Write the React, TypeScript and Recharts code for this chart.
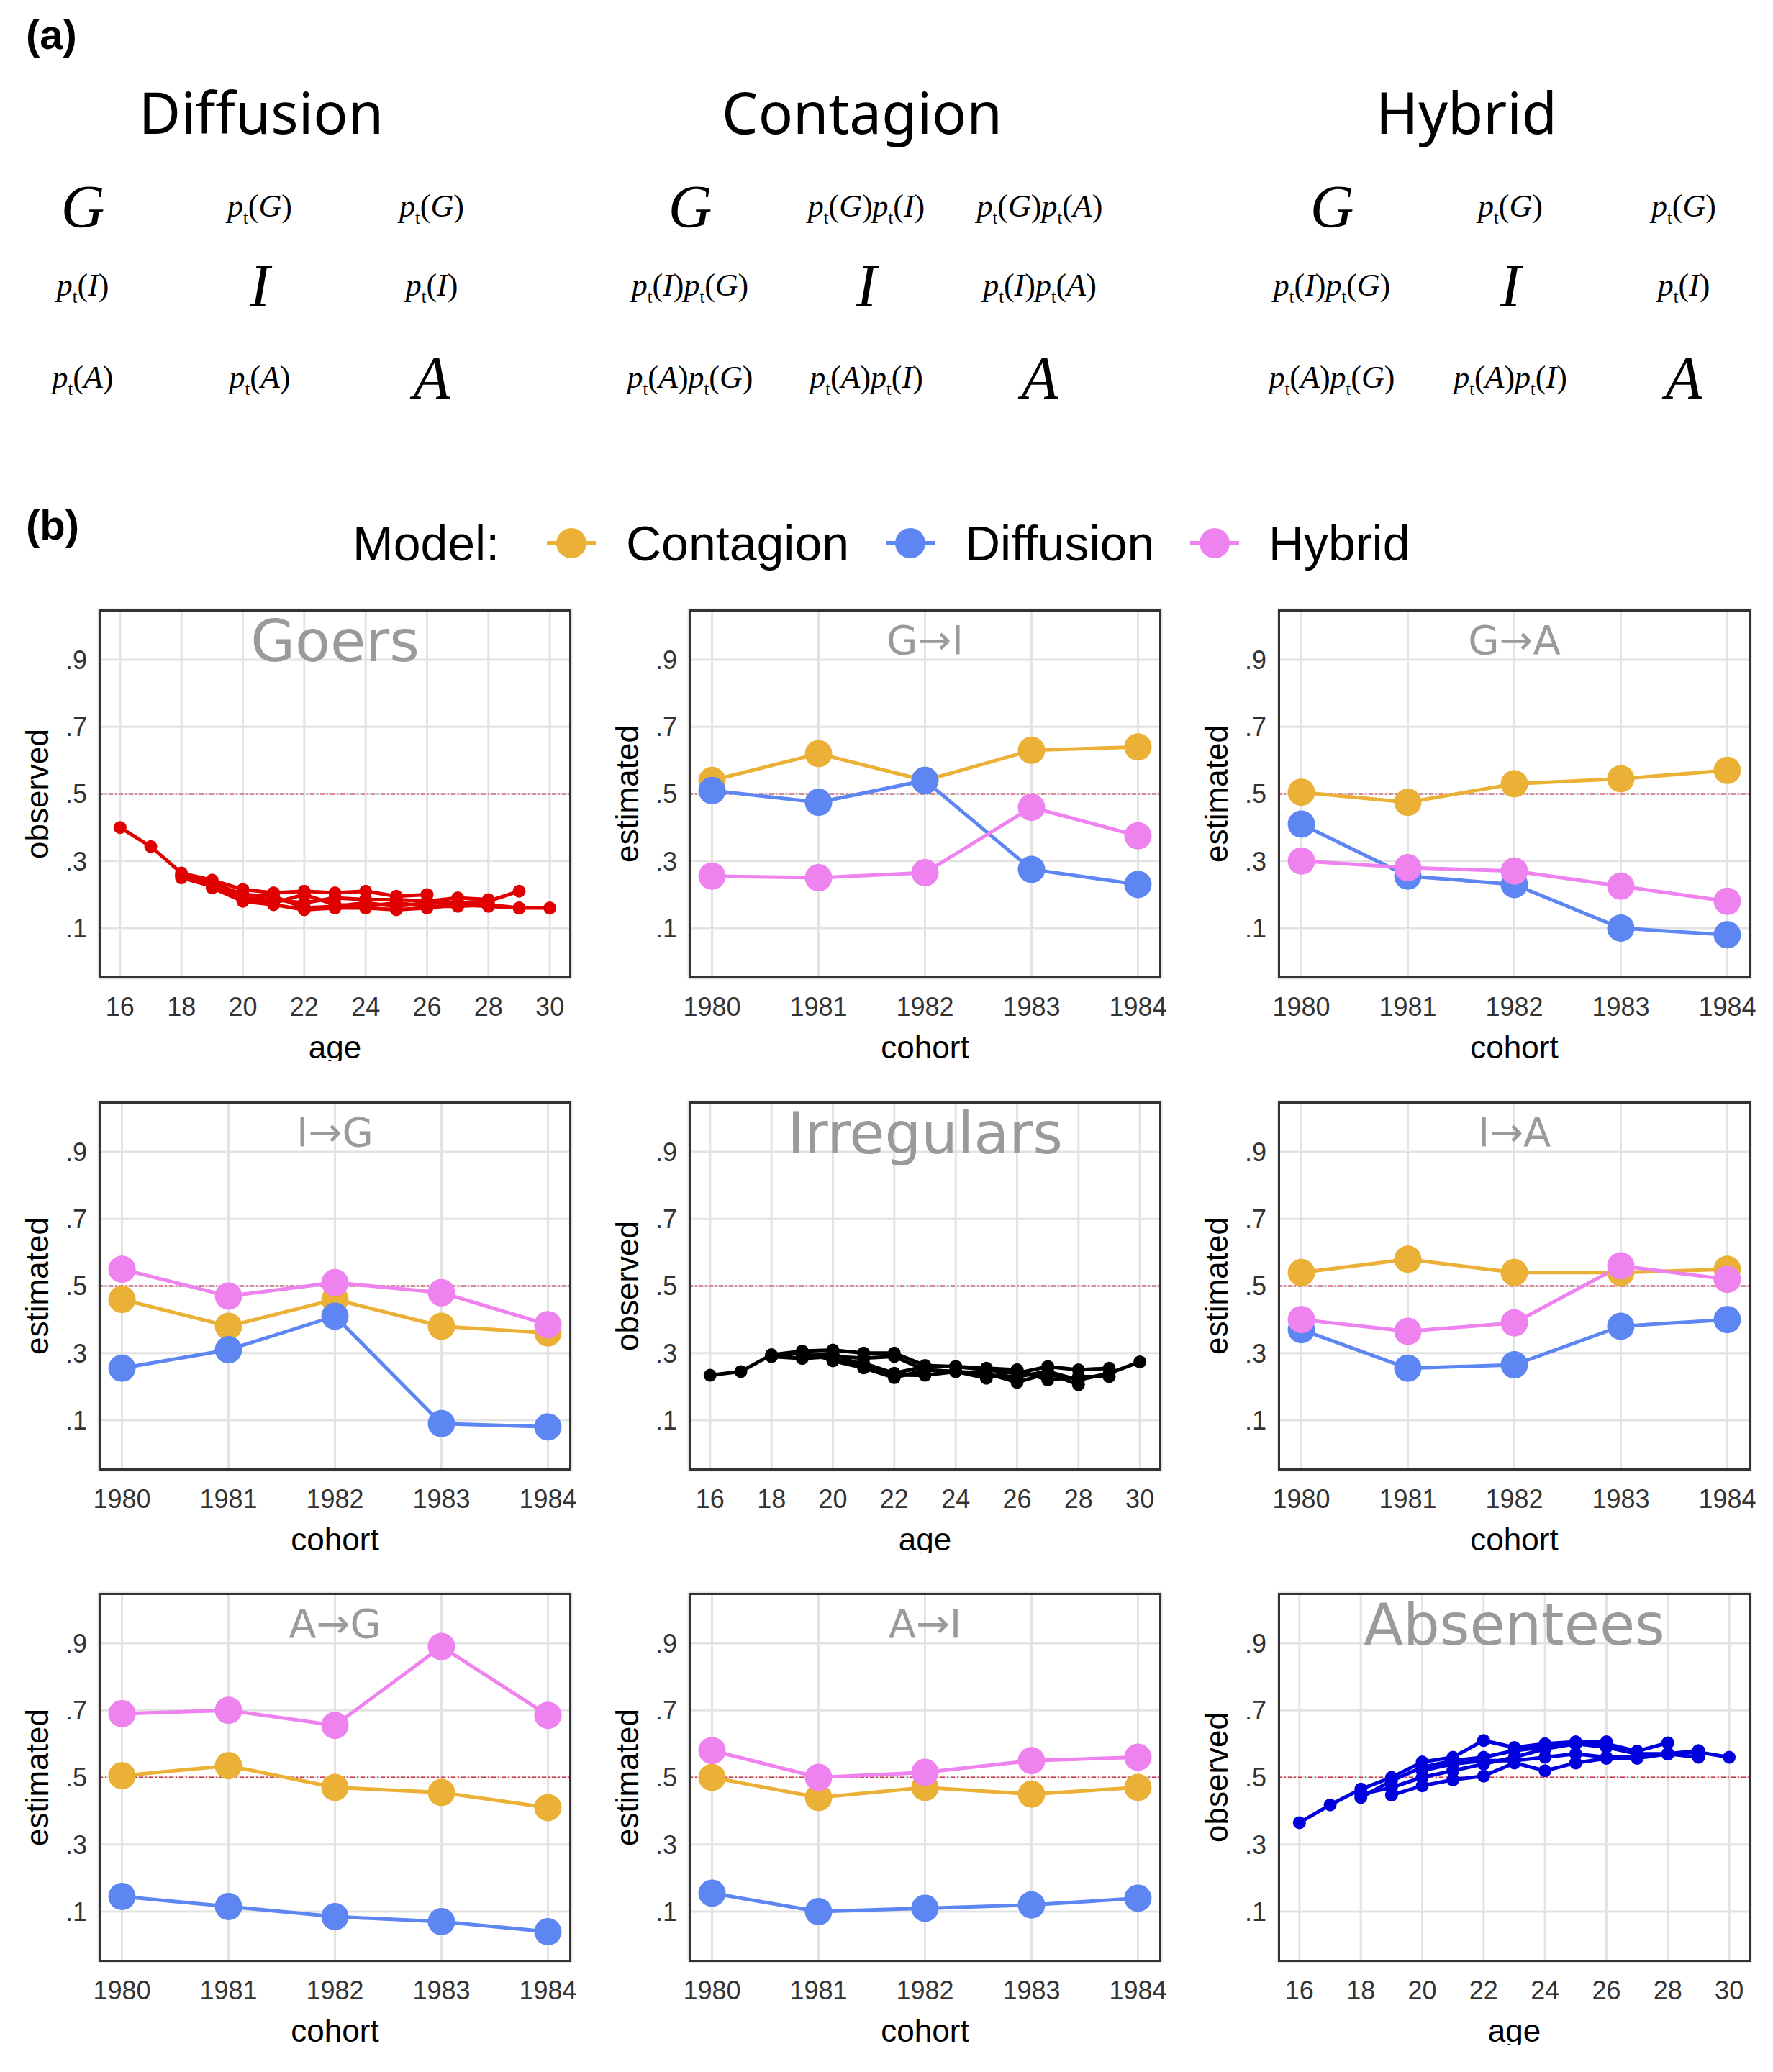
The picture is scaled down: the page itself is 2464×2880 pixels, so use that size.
import React from "react";
import { LineChart, Line, XAxis, YAxis, CartesianGrid, ReferenceLine } from "recharts";

const cohorts = [1980, 1981, 1982, 1983, 1984];
const yTicks = [0.1, 0.3, 0.5, 0.7, 0.9];
const ageTicks = [16, 18, 20, 22, 24, 26, 28, 30];

// estimated panels: contagion / diffusion / hybrid per cohort
const giContagion = [0.54, 0.62, 0.54, 0.63, 0.64];
const giDiffusion = [0.51, 0.475, 0.54, 0.275, 0.23];
const giHybrid = [0.255, 0.25, 0.265, 0.46, 0.375];
const gaContagion = [0.505, 0.475, 0.53, 0.545, 0.57];
const gaDiffusion = [0.41, 0.255, 0.23, 0.1, 0.08];
const gaHybrid = [0.3, 0.28, 0.27, 0.225, 0.18];
const igContagion = [0.46, 0.38, 0.46, 0.38, 0.36];
const igDiffusion = [0.255, 0.31, 0.41, 0.09, 0.08];
const igHybrid = [0.55, 0.47, 0.51, 0.48, 0.385];
const iaContagion = [0.54, 0.58, 0.54, 0.54, 0.55];
const iaDiffusion = [0.37, 0.255, 0.265, 0.38, 0.4];
const iaHybrid = [0.4, 0.365, 0.39, 0.56, 0.52];
const agContagion = [0.505, 0.535, 0.47, 0.455, 0.41];
const agDiffusion = [0.145, 0.115, 0.085, 0.07, 0.04];
const agHybrid = [0.69, 0.7, 0.655, 0.89, 0.685];
const aiContagion = [0.5, 0.44, 0.47, 0.45, 0.47];
const aiDiffusion = [0.155, 0.1, 0.11, 0.12, 0.14];
const aiHybrid = [0.58, 0.5, 0.515, 0.55, 0.56];

// observed panels: one line per cohort, first age of each line
const obsStartAges = [16, 18, 18, 19, 20];
const goers = [
  [0.4, 0.343, 0.264, 0.243, 0.215, 0.205, 0.21, 0.205, 0.21, 0.195, 0.2],
  [0.25, 0.225, 0.19, 0.185, 0.175, 0.19, 0.185, 0.185, 0.18, 0.19, 0.185],
  [0.258, 0.235, 0.2, 0.195, 0.16, 0.165, 0.175, 0.165, 0.175, 0.175, 0.18, 0.21],
  [0.22, 0.18, 0.17, 0.155, 0.16, 0.16, 0.155, 0.16, 0.17, 0.165, 0.16],
  [0.185, 0.175, 0.2, 0.17, 0.165, 0.175, 0.165, 0.165, 0.17, 0.16, 0.16],
];
const irregulars = [
  [0.234, 0.245, 0.295, 0.306, 0.309, 0.3, 0.3, 0.263, 0.26, 0.255, 0.25],
  [0.29, 0.284, 0.29, 0.285, 0.29, 0.25, 0.245, 0.24, 0.213, 0.24, 0.206],
  [0.29, 0.3, 0.28, 0.27, 0.24, 0.26, 0.26, 0.25, 0.24, 0.26, 0.25, 0.255],
  [0.29, 0.3, 0.26, 0.235, 0.234, 0.245, 0.225, 0.25, 0.22, 0.23, 0.23],
  [0.277, 0.256, 0.227, 0.25, 0.245, 0.234, 0.23, 0.245, 0.22, 0.24, 0.274],
];
const absentees = [
  [0.365, 0.418, 0.465, 0.5, 0.546, 0.56, 0.61, 0.589, 0.6, 0.606, 0.606],
  [0.44, 0.49, 0.53, 0.55, 0.56, 0.58, 0.59, 0.6, 0.6, 0.578, 0.603],
  [0.45, 0.47, 0.5, 0.52, 0.54, 0.56, 0.585, 0.6, 0.59, 0.57, 0.57, 0.58],
  [0.447, 0.475, 0.493, 0.504, 0.543, 0.52, 0.543, 0.557, 0.557, 0.57, 0.56],
  [0.52, 0.54, 0.55, 0.55, 0.56, 0.57, 0.56, 0.56, 0.57, 0.575, 0.56],
];

const C_CONT = "#EBB136";
const C_DIFF = "#5E86F2";
const C_HYB = "#EE82EE";
const FONT = "'Liberation Sans', Arial, sans-serif";

const PLOT_W = 657;
const PLOT_H = 513;
const colX = [137, 957, 1776];
const rowY = [847, 1531, 2214];

const fmt = (v: number) => v.toFixed(1).replace(/^0/, "");

type PanelProps = {
  col: number;
  row: number;
  title: string;
  big?: boolean;
  ylabel: string;
  age?: boolean;
  children: React.ReactNode;
  data?: any[];
};

function Panel({ col, row, title, big, ylabel, age, children, data }: PanelProps) {
  const left = colX[col] - 120;
  const top = rowY[row] - 10;
  return (
    <div style={{ position: "absolute", left, top }}>
      <LineChart
        width={PLOT_W + 130}
        height={PLOT_H + 125}
        data={data}
        margin={{ top: 10, right: 10, left: 0, bottom: 0 }}
      >
        <CartesianGrid stroke="#E3E3E3" strokeWidth={3} />
        <XAxis
          dataKey="x"
          type="number"
          domain={age ? [15.3, 30.7] : [1979.78, 1984.22]}
          ticks={age ? ageTicks : cohorts}
          allowDataOverflow
          height={115}
          tickLine={false}
          axisLine={false}
          tick={{ fontSize: 36, fill: "#333", fontFamily: FONT }}
          tickMargin={20}
          label={{ value: age ? "age" : "cohort", position: "insideBottom", offset: 4, fontSize: 44, fill: "#000", fontFamily: FONT }}
        />
        <YAxis
          type="number"
          domain={[-0.05, 1.05]}
          ticks={yTicks}
          tickFormatter={fmt}
          width={120}
          tickLine={false}
          axisLine={false}
          tick={{ fontSize: 36, fill: "#333", fontFamily: FONT }}
          tickMargin={10}
          label={{ value: ylabel, angle: -90, position: "insideLeft", offset: 34, fontSize: 44, fill: "#000", fontFamily: FONT, style: { textAnchor: "middle" } }}
        />
        <ReferenceLine y={0.5} stroke="#D4354E" strokeWidth={2} strokeDasharray="6 3 2 3" />
        {children}
      </LineChart>
      <div
        style={{
          position: "absolute",
          left: 120,
          top: 10,
          width: PLOT_W,
          height: PLOT_H,
          border: "3px solid #333",
          boxSizing: "border-box",
        }}
      />
      <div
        style={{
          position: "absolute",
          left: 120,
          top: big ? 8 : 20,
          width: PLOT_W,
          textAlign: "center",
          fontFamily: "'DejaVu Sans', sans-serif",
          fontSize: big ? 80 : 56,
          color: "#9A9A9A",
        }}
      >
        {title}
      </div>
    </div>
  );
}

function estRows(c: number[], d: number[], h: number[]) {
  return cohorts.map((x, i) => ({ x, c: c[i], d: d[i], h: h[i] }));
}

function estLines() {
  const dot = (color: string) => ({ r: 19, fill: color, stroke: color, strokeWidth: 0 });
  return [
    <Line key="c" dataKey="c" stroke={C_CONT} strokeWidth={5} dot={dot(C_CONT)} isAnimationActive={false} />,
    <Line key="d" dataKey="d" stroke={C_DIFF} strokeWidth={5} dot={dot(C_DIFF)} isAnimationActive={false} />,
    <Line key="h" dataKey="h" stroke={C_HYB} strokeWidth={5} dot={dot(C_HYB)} isAnimationActive={false} />,
  ];
}

function obsLines(series: number[][], color: string) {
  return series.map((vals, k) => (
    <Line
      key={k}
      data={vals.map((y, i) => ({ x: obsStartAges[k] + i, y }))}
      dataKey="y"
      stroke={color}
      strokeWidth={5}
      dot={{ r: 9, fill: color, stroke: color, strokeWidth: 0 }}
      isAnimationActive={false}
    />
  ));
}

function P({ s }: { s: string }) {
  return (
    <span>
      <i>p</i>
      <sub style={{ fontSize: "0.55em" }}>t</sub>(<i>{s}</i>)
    </span>
  );
}

const matDiff = [["G", "pG", "pG"], ["pI", "I", "pI"], ["pA", "pA", "A"]];
const matCont = [["G", "pGpI", "pGpA"], ["pIpG", "I", "pIpA"], ["pApG", "pApI", "A"]];
const matHyb = [["G", "pG", "pG"], ["pIpG", "I", "pI"], ["pApG", "pApI", "A"]];
const matTitles = ["Diffusion", "Contagion", "Hybrid"];
const matColX = [[115, 361, 600], [959, 1204, 1445], [1851, 2099, 2340]];
const matTitleX = [363, 1198, 2038];
const matRowY = [290, 400, 528];

function Cell({ code, x, y }: { code: string; x: number; y: number }) {
  const isBig = code.length === 1;
  const parts = isBig ? [] : code.match(/p./g)!.map((p) => p[1]);
  return (
    <div
      style={{
        position: "absolute",
        left: x - 200,
        top: y - (isBig ? 44 : 25),
        width: 400,
        textAlign: "center",
        fontFamily: "'Liberation Serif', serif",
        fontSize: isBig ? 84 : 44,
        lineHeight: 1,
        fontStyle: isBig ? "italic" : "normal",
      }}
    >
      {isBig ? code : parts.map((s, i) => <P key={i} s={s} />)}
    </div>
  );
}

function Legend() {
  const items = [
    { label: "Contagion", color: C_CONT, mx: 794, tx: 870 },
    { label: "Diffusion", color: C_DIFF, mx: 1265, tx: 1341 },
    { label: "Hybrid", color: C_HYB, mx: 1688, tx: 1763 },
  ];
  return (
    <div style={{ position: "absolute", left: 0, top: 0, fontFamily: FONT }}>
      <div style={{ position: "absolute", left: 490, top: 716, fontSize: 68 }}>Model:</div>
      {items.map((it) => (
        <React.Fragment key={it.label}>
          <div style={{ position: "absolute", left: it.mx - 34, top: 752, width: 68, height: 5, background: it.color }} />
          <div style={{ position: "absolute", left: it.mx - 21, top: 734, width: 42, height: 42, borderRadius: 21, background: it.color }} />
          <div style={{ position: "absolute", left: it.tx, top: 716, fontSize: 68 }}>{it.label}</div>
        </React.Fragment>
      ))}
    </div>
  );
}

export default function App() {
  const mats = [matDiff, matCont, matHyb];
  return (
    <div style={{ position: "absolute", left: 0, top: 0, width: 2464, height: 2880, background: "#fff", overflow: "hidden" }}>
      <div style={{ position: "absolute", left: 36, top: 14, fontFamily: FONT, fontWeight: "bold", fontSize: 58 }}>(a)</div>
      <div style={{ position: "absolute", left: 36, top: 696, fontFamily: FONT, fontWeight: "bold", fontSize: 58 }}>(b)</div>
      {matTitles.map((t, m) => (
        <div
          key={t}
          style={{ position: "absolute", left: matTitleX[m] - 300, top: 100, width: 600, textAlign: "center", fontFamily: "'Noto Sans', sans-serif", fontSize: 80 }}
        >
          {t}
        </div>
      ))}
      {mats.map((mat, m) =>
        mat.map((rowCells, r) =>
          rowCells.map((code, c) => <Cell key={`${m}${r}${c}`} code={code} x={matColX[m][c]} y={matRowY[r]} />)
        )
      )}
      <Legend />

      <Panel col={0} row={0} title="Goers" big ylabel="observed" age>
        {obsLines(goers, "#E00000")}
      </Panel>
      <Panel col={1} row={0} title="G→I" ylabel="estimated" data={estRows(giContagion, giDiffusion, giHybrid)}>
        {estLines()}
      </Panel>
      <Panel col={2} row={0} title="G→A" ylabel="estimated" data={estRows(gaContagion, gaDiffusion, gaHybrid)}>
        {estLines()}
      </Panel>
      <Panel col={0} row={1} title="I→G" ylabel="estimated" data={estRows(igContagion, igDiffusion, igHybrid)}>
        {estLines()}
      </Panel>
      <Panel col={1} row={1} title="Irregulars" big ylabel="observed" age>
        {obsLines(irregulars, "#000000")}
      </Panel>
      <Panel col={2} row={1} title="I→A" ylabel="estimated" data={estRows(iaContagion, iaDiffusion, iaHybrid)}>
        {estLines()}
      </Panel>
      <Panel col={0} row={2} title="A→G" ylabel="estimated" data={estRows(agContagion, agDiffusion, agHybrid)}>
        {estLines()}
      </Panel>
      <Panel col={1} row={2} title="A→I" ylabel="estimated" data={estRows(aiContagion, aiDiffusion, aiHybrid)}>
        {estLines()}
      </Panel>
      <Panel col={2} row={2} title="Absentees" big ylabel="observed" age>
        {obsLines(absentees, "#0000DD")}
      </Panel>
    </div>
  );
}
